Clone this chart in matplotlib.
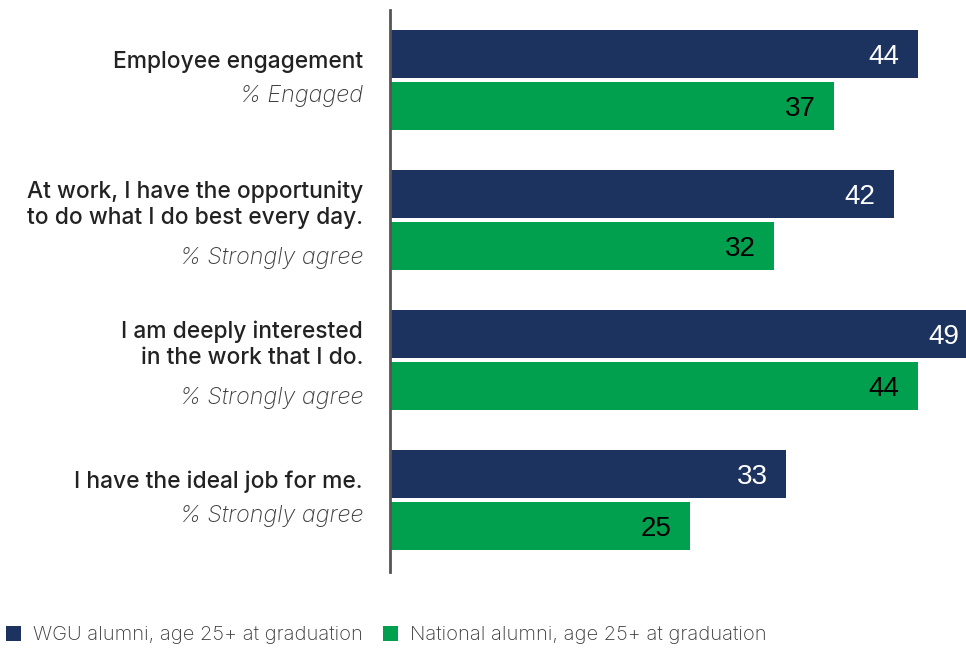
import matplotlib
matplotlib.use("Agg")
import matplotlib.pyplot as plt
from matplotlib.patches import Patch

# data
titles = ["Employee engagement",
          "At work, I have the opportunity\nto do what I do best every day.",
          "I am deeply interested\nin the work that I do.",
          "I have the ideal job for me."]
subtitles = ["% Engaged", "% Strongly agree", "% Strongly agree", "% Strongly agree"]
wgu = [44, 42, 49, 33]
national = [37, 32, 44, 25]
series_names = ["WGU alumni, age 25+ at graduation",
                "National alumni, age 25+ at graduation"]

NAVY = "#1c335f"
GREEN = "#00a04f"
TEXT = "#222222"
SUB = "#3c3c3c"

W, H = 966, 648
fig = plt.figure(figsize=(W / 100, H / 100), dpi=100)
# axes in pixel terms: spine at x=390, top 10, bottom 572
ax = fig.add_axes([390 / W, 1 - 572 / H, (W - 390) / W, (572 - 10) / H])

gap = 140.0  # px between groups
bar_h = 48 / gap
off = 26 / gap
ys = list(range(len(titles)))

ax.barh([y - off for y in ys], wgu, height=bar_h, color=NAVY, label=series_names[0])
ax.barh([y + off for y in ys], national, height=bar_h, color=GREEN, label=series_names[1])

ax.set_xlim(0, (W - 390) / 12)
ax.set_ylim((572 - 80) / gap, (10 - 80) / gap)

for s in ["top", "right", "bottom"]:
    ax.spines[s].set_visible(False)
ax.spines["left"].set_color("#555555")
ax.spines["left"].set_linewidth(2)
ax.set_xticks([])
ax.set_yticks([])

num_font = dict(family="Liberation Sans", fontsize=20)
for y, v in zip(ys, wgu):
    ax.text(v - 1.55, y - off, str(v), ha="right", va="center_baseline", color="white", **num_font)
for y, v in zip(ys, national):
    ax.text(v - 1.55, y + off, str(v), ha="right", va="center_baseline", color="black", **num_font)

px = 0.72  # points per pixel
for y, t, s in zip(ys, titles, subtitles):
    two = "\n" in t
    ty = -15 if two else -18
    sy = 38 if two else 16
    ax.annotate(t, xy=(0, y), xycoords="data", xytext=(-27 * px, -ty * px),
                textcoords="offset points", ha="right", va="center",
                multialignment="right", fontsize=16.4, family="Inter",
                fontweight="medium", color=TEXT, linespacing=1.26)
    ax.annotate(s, xy=(0, y), xycoords="data", xytext=(-27 * px, -sy * px),
                textcoords="offset points", ha="right", va="center",
                fontsize=16.8, family="Inter", style="italic",
                fontweight="light", color=SUB)

handles = [Patch(facecolor=NAVY), Patch(facecolor=GREEN)]
leg = fig.legend(handles, series_names, loc="center left",
                 bbox_to_anchor=(0.0, 1 - 635 / H), ncol=2, frameon=False,
                 handlelength=0.75, handleheight=0.75, handletextpad=0.6,
                 columnspacing=1.0, borderaxespad=0, borderpad=0.3,
                 prop=dict(family="Inter", size=14.5, weight="light"))
for txt in leg.get_texts():
    txt.set_color("#3a3a3a")

fig.savefig("out.png", dpi=100)
